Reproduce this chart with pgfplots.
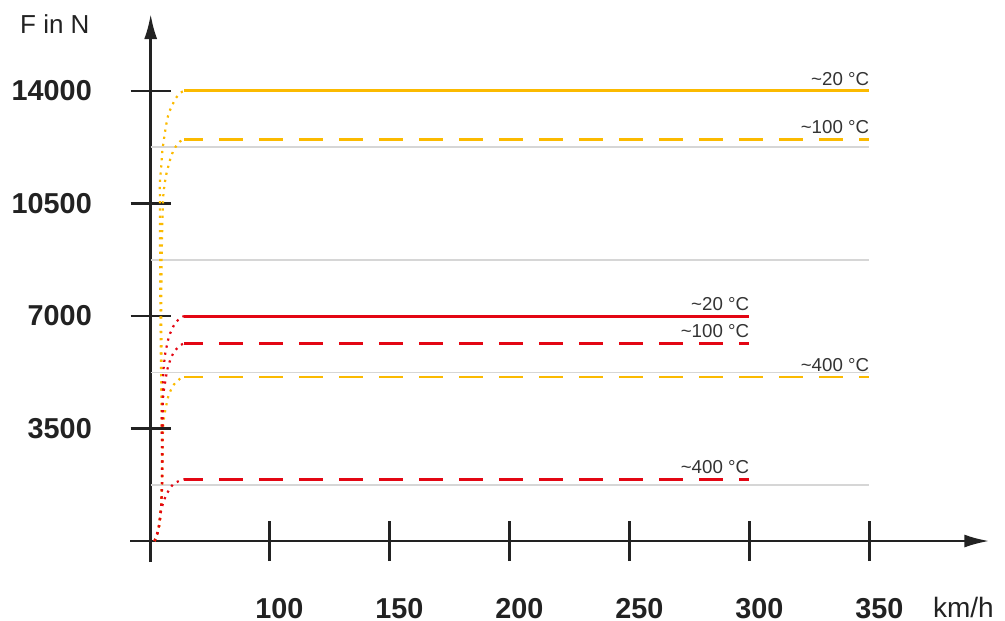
\documentclass[border=0pt]{standalone}
\usepackage{fontspec}
\setmainfont{Liberation Sans}
\usepackage{pgfplots}
\pgfplotsset{compat=1.18}
\usetikzlibrary{arrows.meta}
\definecolor{myorange}{RGB}{251,186,0}
\definecolor{myred}{RGB}{227,6,19}
\definecolor{axcol}{RGB}{34,34,34}
\definecolor{txtcol}{RGB}{51,51,51}
\definecolor{gridc}{RGB}{214,214,214}
\tikzset{
  dotline/.style={line width=2.2bp, dash pattern=on 2.2bp off 5bp, smooth},
  solidline/.style={line width=3bp},
  dashline/.style={line width=2.6bp, dash pattern=on 24bp off 16bp, dash phase=5bp},
  lbl/.style={anchor=base east, inner sep=0pt, yshift=5.5bp, font=\fontsize{18.7bp}{20bp}\selectfont, text=txtcol},
}

\begin{document}
\begin{tikzpicture}
\begin{axis}[
  scale only axis,
  width=838.6bp, height=548bp,
  xmin=50.58, xmax=400,
  ymin=-653, ymax=16395,
  clip=false,
  axis x line=middle, axis y line=left,
  axis line style={line width=2.5bp, axcol, -{Latex[length=25bp,width=13bp]}},
  xtick={100,150,200,250,300,350},
  ytick={3500,7000,10500,14000},
  tick style={line width=2.5bp, axcol},
  major tick length=40bp,
  tick align=center,
  /pgf/number format/assume math mode=true,
  /pgf/number format/1000 sep={},
  scaled y ticks=false,
  xticklabel style={font=\fontsize{28.8bp}{30bp}\selectfont\bfseries, text=axcol, anchor=north, inner sep=0pt, yshift=-37bp, xshift=10bp},
  yticklabel style={font=\fontsize{28.8bp}{30bp}\selectfont\bfseries, text=axcol, anchor=east, inner sep=0pt, xshift=-38.7bp},
  xlabel={km/h},
  ylabel={F in N},
  every axis x label/.style={at={(axis cs:376.5,-2364)}, anchor=base west, inner sep=0pt, font=\fontsize{28bp}{30bp}\selectfont, text=axcol},
  every axis y label/.style={at={(axis cs:-3.875,15804)}, anchor=base west, inner sep=0pt, font=\fontsize{26bp}{28bp}\selectfont, text=axcol},
]
% bounding box corners
\coordinate (bbBL) at (axis cs:-12.21,-2458);
\coordinate (bbTR) at (axis cs:406.54,16831);
% x axis extension left of the y axis
\draw[axcol, line width=2.5bp] (axis cs:41.96,0) -- (axis cs:50.58,0);
% light grid lines
\draw[gridc, line width=1.5bp] (axis cs:50.58,1750) -- (axis cs:350,1750);
\draw[gridc, line width=1.5bp] (axis cs:50.58,5250) -- (axis cs:350,5250);
\draw[gridc, line width=1.5bp] (axis cs:50.58,8750) -- (axis cs:350,8750);
\draw[gridc, line width=1.5bp] (axis cs:50.58,12250) -- (axis cs:350,12250);

% ---- orange, ~20 C : 14000
\addplot[myorange, dotline] coordinates {(52.2,0) (53.75,342) (54.58,778) (55.08,1276) (55.29,1898) (55.29,2831) (55.17,3764) (55.0,4698) (54.79,5942) (54.625,7186) (54.54,8431) (54.46,9675) (54.46,10609) (54.375,11106) (54.58,11324) (54.875,11573) (55.08,11791) (55.29,12008) (55.58,12226) (56.0,12444) (56.42,12662) (56.96,12911) (57.5,13128) (58.29,13346) (59.46,13533) (60.83,13751) (62.79,13937) (64.46,14000)};
\addplot[myorange, solidline] coordinates {(64.46,14000) (350,14000)};
% ---- orange, ~100 C : 12500
\addplot[myorange, dotline] coordinates {(52.2,0) (53.75,342) (54.58,778) (55.08,1276) (55.29,1898) (55.375,2831) (55.29,3764) (55.21,4698) (55.08,5942) (55.0,7186) (55.08,8431) (55.29,9364) (55.5,10142) (55.83,10733) (56.125,10951) (56.54,11178) (57.08,11408) (57.79,11613) (58.5,11822) (59.46,12040) (60.83,12248) (62.67,12422) (64.46,12500)};
\addplot[myorange, dashline] coordinates {(64.46,12500) (350,12500)};
% ---- orange, ~400 C : 5100
\addplot[myorange, dotline] coordinates {(52.2,0) (53.75,342) (54.58,778) (55.08,1276) (55.375,1898) (55.5,2831) (55.71,3453) (56.125,3827) (56.67,4075) (57.25,4284) (57.92,4502) (58.92,4688) (60.42,4884) (62.67,5040) (64.46,5100)};
\addplot[myorange, dashline] coordinates {(64.46,5100) (350,5100)};
% ---- red, ~20 C : 7000
\addplot[myred, dotline] coordinates {(52.2,0) (53.75,342) (54.58,778) (55.08,1276) (55.375,1898) (55.5,2831) (55.58,3764) (55.625,4387) (55.71,4853) (55.83,5258) (56.125,5485) (56.42,5703) (56.83,5920) (57.5,6138) (58.21,6368) (59.33,6564) (60.71,6773) (62.79,6928) (64.46,7000)};
\addplot[myred, solidline] coordinates {(64.46,7000) (300,7000)};
% ---- red, ~100 C : 6150
\addplot[myred, dotline] coordinates {(52.2,0) (53.75,342) (54.58,778) (55.08,1276) (55.29,1898) (55.29,2831) (55.21,3453) (55.21,3951) (55.42,4209) (55.71,4439) (56.0,4657) (56.42,4862) (56.96,5093) (57.375,5298) (58.21,5516) (59.17,5724) (60.71,5920) (62.67,6076) (64.46,6150)};
\addplot[myred, dashline] coordinates {(64.46,6150) (300,6150)};
% ---- red, ~400 C : 1920
\addplot[myred, dotline] coordinates {(52.2,0) (52.79,134) (53.75,342) (54.58,778) (55.0,986) (55.83,1192) (56.83,1400) (58.21,1587) (60.0,1773) (62.67,1876) (64.46,1920)};
\addplot[myred, dashline] coordinates {(64.46,1920) (300,1920)};

% labels
\node[lbl] at (axis cs:350,14000) {\textasciitilde20 °C};
\node[lbl] at (axis cs:350,12500) {\textasciitilde100 °C};
\node[lbl] at (axis cs:350,5100) {\textasciitilde400 °C};
\node[lbl] at (axis cs:300,7000) {\textasciitilde20 °C};
\node[lbl] at (axis cs:300,6150) {\textasciitilde100 °C};
\node[lbl] at (axis cs:300,1920) {\textasciitilde400 °C};
\end{axis}
\pgfresetboundingbox
\useasboundingbox (bbBL) rectangle (bbTR);
\end{tikzpicture}
\end{document}
